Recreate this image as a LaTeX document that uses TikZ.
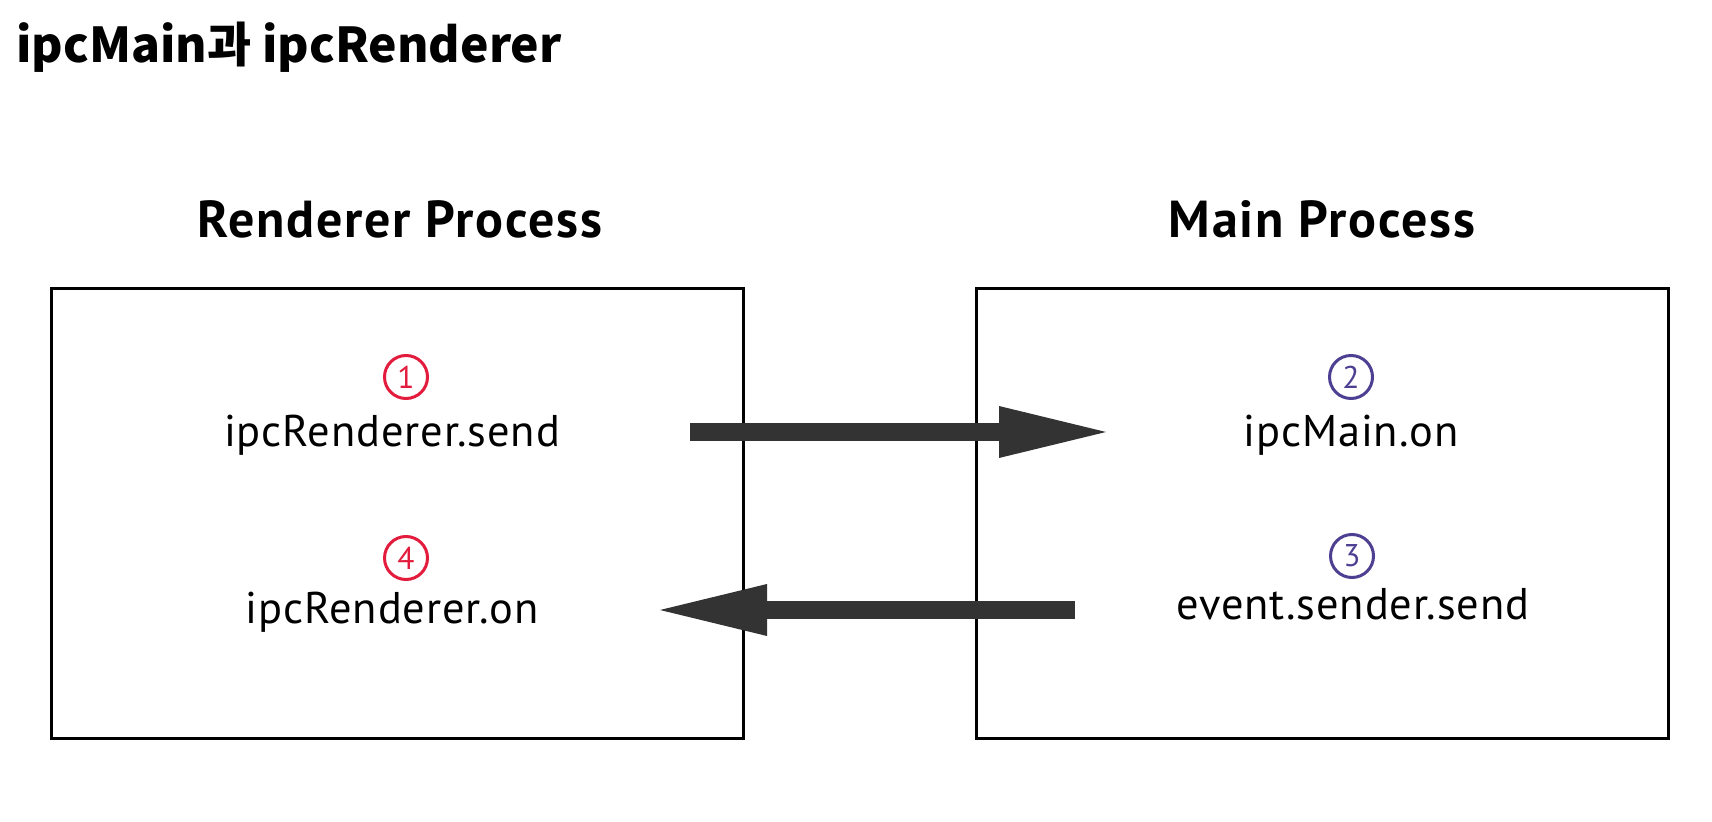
\documentclass[tikz,border=0pt]{standalone}
\usepackage{fontspec}
\setmainfont{PT Sans}
\newfontfamily\titlefont{Noto Sans CJK KR}
\usepackage{tikz}
\usetikzlibrary{arrows.meta}
\definecolor{stepred}{HTML}{E31B3D}
\definecolor{steppurple}{HTML}{4E3F93}
\definecolor{pipegray}{HTML}{333333}
\tikzset{every picture/.style={
  >={Triangle[length=53.5pt,width=26pt,line width=0pt]}  % Fat triangle heads.
  }
}
\newcommand{\call}[1]{\fontsize{22.2}{25}\selectfont\addfontfeature{LetterSpace=2}#1}
\newcommand{\proc}[1]{\bfseries\fontsize{26}{30}\selectfont\addfontfeature{LetterSpace=3.3}#1}

\begin{document}
\begin{tikzpicture}[x=0.5pt,y=-0.5pt,
  procbox/.style={draw,line width=1.5pt,minimum width=346pt,minimum height=224.5pt},
  stepno/.style={circle,draw=#1,text=#1,line width=1.5pt,minimum size=21.5pt,
    inner sep=0pt,font=\fontsize{15.7}{16}\selectfont},
  calltext/.style={anchor=base,inner sep=0pt},
  pipe/.style={->,draw=pipegray,line width=9pt}]
  \useasboundingbox[fill=white] (0,0) rectangle (1712,822);

  \node[anchor=base west,inner sep=0pt,font=\titlefont\bfseries\fontsize{24}{28}\selectfont]
    (title) at (16,63) {ipcMain과 ipcRenderer};

  % the two processes
  \node[calltext] (rhead) at (400,238) {\proc{Renderer Process}};
  \node[calltext] (mhead) at (1322,238) {\proc{Main Process}};
  \node[procbox] (rbox) at (397.5,513.5) {};
  \node[procbox] (mbox) at (1322.5,513.5) {};

  % steps
  \node[stepno=stepred] (n1) at (406,377) {1};
  \node[calltext] (send) at (392,447) {\call{ipcRenderer.send}};
  \node[stepno=steppurple] (n2) at (1351,377) {2};
  \node[calltext] (mon) at (1351,447) {\call{ipcMain.on}};
  \node[stepno=steppurple] (n3) at (1352,556) {3};
  \node[calltext] (reply) at (1353,619) {\call{event.sender.send}};
  \node[stepno=stepred] (n4) at (406,558) {4};
  \node[calltext] (ron) at (392,624) {\call{ipcRenderer.on}};

  % messages
  \coordinate (out1) at (690,432);
  \coordinate (in1) at (1106,432);
  \coordinate (out2) at (1075,610);
  \coordinate (in2) at (660,610);
  \draw[pipe] (out1) -- (in1);
  \draw[pipe] (out2) -- (in2);
\end{tikzpicture}
\end{document}
